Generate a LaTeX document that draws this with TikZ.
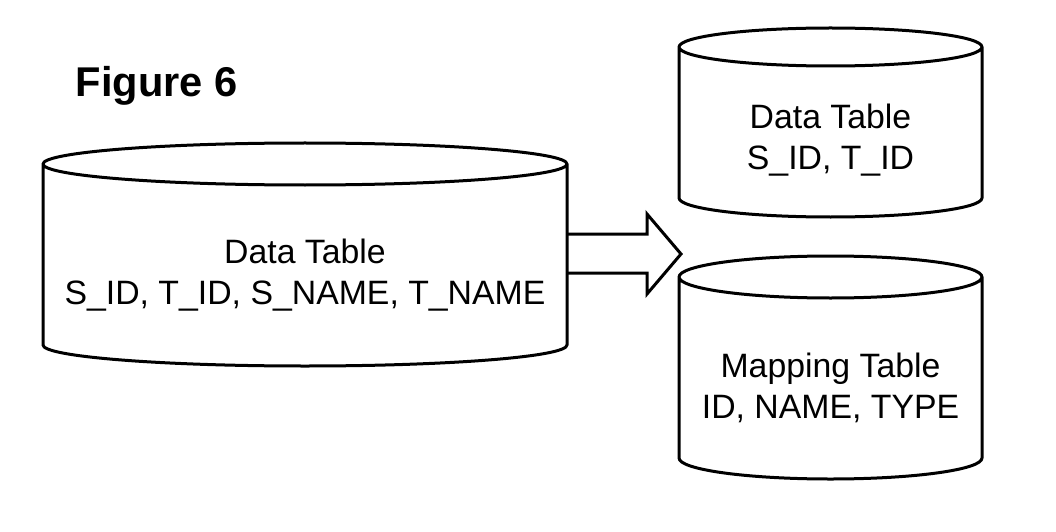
\documentclass[tikz,border=0pt]{standalone}
\usepackage{fontspec}
\setmainfont{Liberation Sans}
\begin{document}
\begin{tikzpicture}[x=1pt,y=1pt,
  cyl/.style={line width=3pt,line join=round,line cap=round},
  lbl/.style={align=center,inner sep=0pt,font=\fontsize{33.8}{41}\selectfont},
  title/.style={inner sep=0pt,font=\fontsize{41.6}{48}\selectfont\bfseries}]
\useasboundingbox[fill=white] (0,0) rectangle (1056,531);
% left cylinder
\draw[cyl] (43,367) -- (43,186) arc[start angle=180,end angle=360,x radius=262pt,y radius=21pt]
  -- (567,367) arc[start angle=0,end angle=180,x radius=262pt,y radius=21pt]
  arc[start angle=180,end angle=360,x radius=262pt,y radius=21pt];
\node[lbl] (src) at (305,255.5) {Data Table\\S\_ID, T\_ID, S\_NAME, T\_NAME};
% top right cylinder
\draw[cyl] (679,484) -- (679,333) arc[start angle=180,end angle=360,x radius=151.5pt,y radius=19pt]
  -- (982,484) arc[start angle=0,end angle=180,x radius=151.5pt,y radius=19pt]
  arc[start angle=180,end angle=360,x radius=151.5pt,y radius=19pt];
\node[lbl] (dt) at (830.5,390.5) {Data Table\\S\_ID, T\_ID};
% mapping cylinder
\draw[cyl] (679,254) -- (679,73) arc[start angle=180,end angle=360,x radius=151.5pt,y radius=21pt]
  -- (982,254) arc[start angle=0,end angle=180,x radius=151.5pt,y radius=21pt]
  arc[start angle=180,end angle=360,x radius=151.5pt,y radius=21pt];
\node[lbl] (map) at (830.5,143) {Mapping Table\\ID, NAME, TYPE};
% block arrow
\coordinate (a1) at (567,297);
\coordinate (a2) at (647,297);
\coordinate (a3) at (647,317);
\coordinate (tip) at (681,277);
\coordinate (a5) at (647,237);
\coordinate (a6) at (647,258);
\coordinate (a7) at (567,258);
\draw[line width=3pt,line join=miter] (a1) -- (a2) -- (a3) -- (tip) -- (a5) -- (a6) -- (a7);
% title
\node[title,anchor=base west] (fig) at (75.5,434) {Figure 6};
\end{tikzpicture}
\end{document}
